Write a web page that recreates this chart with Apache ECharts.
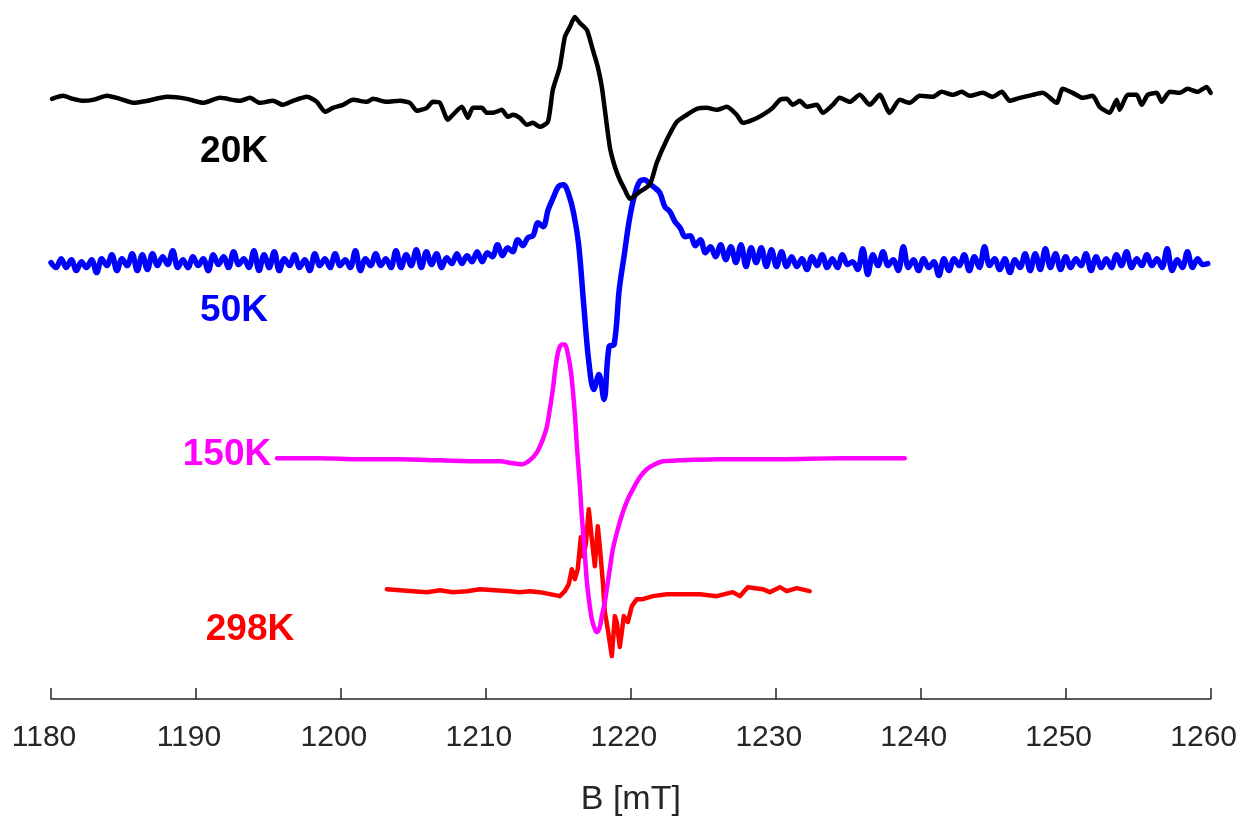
<!DOCTYPE html>
<html>
<head>
<meta charset="utf-8">
<title>EPR spectra</title>
<script src="https://cdn.jsdelivr.net/npm/echarts@6/dist/echarts.min.js"></script>
<style>
  html, body { margin: 0; padding: 0; background: #fff; }
  #chart { width: 1240px; height: 823px; }
</style>
</head>
<body>
<div id="chart"></div>
<script>
// field axis ticks (mT)
const fieldTicks = [1180, 1190, 1200, 1210, 1220, 1230, 1240, 1250, 1260];

// 20K trace: field (mT) and signal (a.u., offset)
const b20Field = [1180.07, 1180.83, 1181.52, 1182.21, 1182.90, 1183.86, 1184.76, 1185.66, 1186.62, 1188.00,
  1189.38, 1190.48, 1191.66, 1193.03, 1193.72, 1194.41, 1195.31, 1196.00, 1196.69, 1197.66,
  1198.34, 1198.90, 1199.45, 1200.14, 1200.83, 1201.79, 1202.21, 1203.17, 1204.07, 1204.76,
  1205.24, 1205.93, 1206.34, 1206.83, 1207.38, 1207.72, 1208.34, 1208.76, 1209.10, 1209.72,
  1210.07, 1210.48, 1211.10, 1211.52, 1211.86, 1212.34, 1212.83, 1213.24, 1213.72, 1214.28,
  1214.62, 1215.10, 1215.45, 1215.79, 1216.14, 1216.48, 1216.97, 1217.38, 1217.72, 1218.00,
  1218.21, 1218.55, 1218.90, 1219.24, 1219.59, 1219.93, 1220.62, 1221.31, 1221.79, 1222.48,
  1223.17, 1223.86, 1224.55, 1225.24, 1225.93, 1226.62, 1227.31, 1227.72, 1228.41, 1229.10,
  1229.79, 1230.28, 1230.76, 1231.17, 1231.66, 1232.14, 1232.83, 1233.24, 1233.93, 1234.41,
  1235.10, 1235.79, 1236.48, 1237.17, 1237.86, 1238.55, 1239.24, 1239.93, 1240.83, 1241.45,
  1242.21, 1242.83, 1243.38, 1244.28, 1244.97, 1245.59, 1246.14, 1246.83, 1247.72, 1248.41,
  1249.38, 1249.79, 1250.48, 1251.17, 1251.86, 1252.34, 1253.03, 1253.52, 1253.72, 1254.28,
  1254.90, 1255.24, 1255.66, 1256.28, 1256.62, 1257.17, 1257.86, 1258.41, 1259.10, 1259.72, 1260.00];
const b20Signal = [601, 604, 601, 599, 600, 604, 601, 597, 599, 603,
  601, 597, 602, 599, 602, 597, 599, 595, 599, 603,
  598, 588, 592, 595, 600, 598, 601, 598, 599, 597,
  589, 592, 598, 597, 580, 585, 593, 582, 592, 592,
  587, 587, 590, 583, 585, 582, 575, 577, 573, 578,
  610, 633, 663, 673, 683, 677, 670, 650, 633, 613,
  590, 553, 533, 520, 510, 501, 508, 515, 537, 560,
  578, 585, 591, 592, 590, 593, 585, 577, 580, 585,
  592, 600, 601, 595, 599, 593, 595, 587, 595, 602,
  598, 605, 595, 605, 587, 600, 597, 604, 603, 608,
  605, 608, 604, 607, 603, 608, 599, 602, 605, 607,
  597, 611, 607, 602, 604, 593, 587, 600, 590, 605,
  605, 595, 605, 607, 598, 608, 607, 611, 608, 613, 607];

// 50K trace: sampled every 0.35 mT from 1180 mT
const b50Start = 1180;
const b50Step = 0.35;
const b50Signal = [437, 432, 441, 432, 440, 429, 438, 432, 440, 427,
  441, 434, 445, 429, 441, 434, 446, 429, 445, 430,
  446, 434, 443, 435, 449, 432, 440, 432, 443, 434,
  441, 429, 445, 435, 443, 432, 448, 435, 441, 432,
  449, 429, 445, 432, 448, 429, 441, 434, 445, 432,
  440, 429, 446, 434, 441, 432, 446, 434, 440, 432,
  449, 429, 441, 434, 446, 434, 441, 432, 449, 432,
  445, 434, 450, 432, 448, 435, 446, 432, 442, 436,
  446, 436, 444, 438, 448, 438, 447, 443, 455, 444,
  452, 448, 460, 454, 462, 464, 477, 473, 490, 502,
  513, 515, 506, 487, 455, 395, 338, 310, 325, 300,
  353, 355, 410, 445, 480, 504, 518, 520, 516, 512,
  507, 493, 488, 478, 472, 463, 464, 454, 460, 447,
  453, 443, 455, 440, 453, 437, 455, 433, 452, 437,
  452, 433, 450, 433, 448, 433, 443, 433, 441, 430,
  443, 434, 445, 432, 441, 432, 445, 435, 438, 430,
  451, 425, 445, 434, 448, 434, 440, 429, 453, 432,
  440, 429, 441, 432, 438, 424, 441, 429, 441, 434,
  445, 429, 443, 432, 453, 434, 441, 430, 441, 427,
  440, 432, 446, 429, 446, 430, 451, 432, 446, 430,
  443, 432, 441, 434, 446, 429, 443, 432, 441, 432,
  445, 434, 448, 432, 441, 434, 445, 434, 441, 432,
  451, 429, 440, 432, 448, 432, 441, 435, 436];

// 150K trace
const b150Field = [1195.59, 1198.55, 1201.31, 1204.07, 1206.83, 1209.59, 1210.97, 1211.86, 1212.48, 1213.03,
  1213.52, 1213.93, 1214.21, 1214.41, 1214.62, 1214.83, 1215.03, 1215.24, 1215.45, 1215.59,
  1215.79, 1215.93, 1216.14, 1216.28, 1216.48, 1216.62, 1216.83, 1216.97, 1217.17, 1217.31,
  1217.52, 1217.66, 1217.86, 1218.00, 1218.21, 1218.34, 1218.55, 1218.76, 1219.10, 1219.45,
  1219.79, 1220.14, 1220.62, 1221.10, 1221.66, 1222.21, 1223.38, 1226.14, 1230.28, 1234.41, 1238.90];
const b150Signal = [241, 241, 240, 240, 239, 238, 238, 236, 235, 239,
  247, 260, 273, 290, 310, 335, 350, 355, 355, 350,
  335, 320, 285, 253, 215, 183, 145, 117, 93, 80,
  70, 67, 72, 83, 97, 110, 130, 150, 170, 187,
  200, 210, 222, 230, 235, 238, 239, 240, 240, 241, 241];

// 298K trace
const b298Field = [1203.17, 1204.07, 1204.97, 1205.93, 1206.83, 1207.72, 1208.69, 1209.59, 1210.62, 1211.66,
  1212.34, 1213.03, 1213.72, 1214.41, 1215.10, 1215.45, 1215.72, 1215.93, 1216.14, 1216.34,
  1216.55, 1216.69, 1216.90, 1217.10, 1217.31, 1217.52, 1217.72, 1217.86, 1218.07, 1218.21,
  1218.41, 1218.69, 1218.90, 1219.03, 1219.24, 1219.52, 1219.79, 1220.07, 1220.41, 1220.83,
  1221.52, 1222.48, 1223.59, 1224.76, 1225.93, 1227.03, 1227.52, 1228.07, 1229.10, 1229.59,
  1230.28, 1230.76, 1231.45, 1232.34];
const b298Signal = [110, 109, 108, 107, 109, 107, 108, 110, 109, 108,
  107, 108, 107, 105, 103, 108, 115, 130, 120, 130,
  162, 143, 155, 190, 160, 133, 173, 153, 117, 87,
  70, 43, 83, 77, 52, 83, 77, 93, 100, 100,
  103, 105, 105, 105, 103, 107, 103, 112, 110, 107,
  112, 108, 111, 108];

const pairs = (xs, ys) => xs.map((x, i) => [x, ys[i]]);
const b50Data = b50Signal.map((v, i) => [+(b50Start + b50Step * i).toFixed(2), v]);

const fontFamily = '"Liberation Sans", Arial, Helvetica, sans-serif';
const axisColor = '#262626';

const chart = echarts.init(document.getElementById('chart'));

function trace(name, data, color, width, smooth) {
  return {
    name: name,
    type: 'line',
    data: data,
    showSymbol: false,
    smooth: smooth,
    lineStyle: { color: color, width: width, join: 'round', cap: 'round' },
    emphasis: { disabled: true }
  };
}

function tempLabel(text, x, y, color) {
  return {
    type: 'text',
    x: x,
    y: y,
    style: {
      text: text,
      fill: color,
      font: 'bold 37px ' + fontFamily,
      align: 'center',
      verticalAlign: 'middle'
    }
  };
}

chart.setOption({
  animation: false,
  backgroundColor: '#ffffff',
  grid: { left: 51, right: 29, top: -1, bottom: 124 },
  xAxis: {
    type: 'value',
    min: fieldTicks[0],
    max: fieldTicks[fieldTicks.length - 1],
    interval: 10,
    name: 'B [mT]',
    nameLocation: 'middle',
    nameGap: 84,
    nameTextStyle: { fontSize: 34, color: axisColor, fontFamily: fontFamily },
    axisLine: { onZero: false, lineStyle: { color: axisColor, width: 1.5 } },
    axisTick: { inside: true, length: 11, lineStyle: { color: axisColor, width: 1.5 } },
    axisLabel: {
      fontSize: 30, color: axisColor, fontFamily: fontFamily, margin: 24, padding: [0, 14, 0, 0],
      formatter: v => String(v)
    },
    splitLine: { show: false }
  },
  yAxis: {
    type: 'value',
    min: 0,
    max: 700,
    show: false
  },
  series: [
    trace('298K', pairs(b298Field, b298Signal), '#ff0000', 4.5, false),
    trace('150K', pairs(b150Field, b150Signal), '#ff00ff', 4.5, 0.3),
    trace('50K', b50Data, '#0000ff', 5.5, 0.35),
    trace('20K', pairs(b20Field, b20Signal), '#000000', 4.5, 0.2)
  ],
  graphic: [
    tempLabel('20K', 234, 152, '#000000'),
    tempLabel('50K', 234, 311, '#0000ff'),
    tempLabel('150K', 227, 455, '#ff00ff'),
    tempLabel('298K', 250, 630, '#ff0000')
  ]
});
</script>
</body>
</html>
